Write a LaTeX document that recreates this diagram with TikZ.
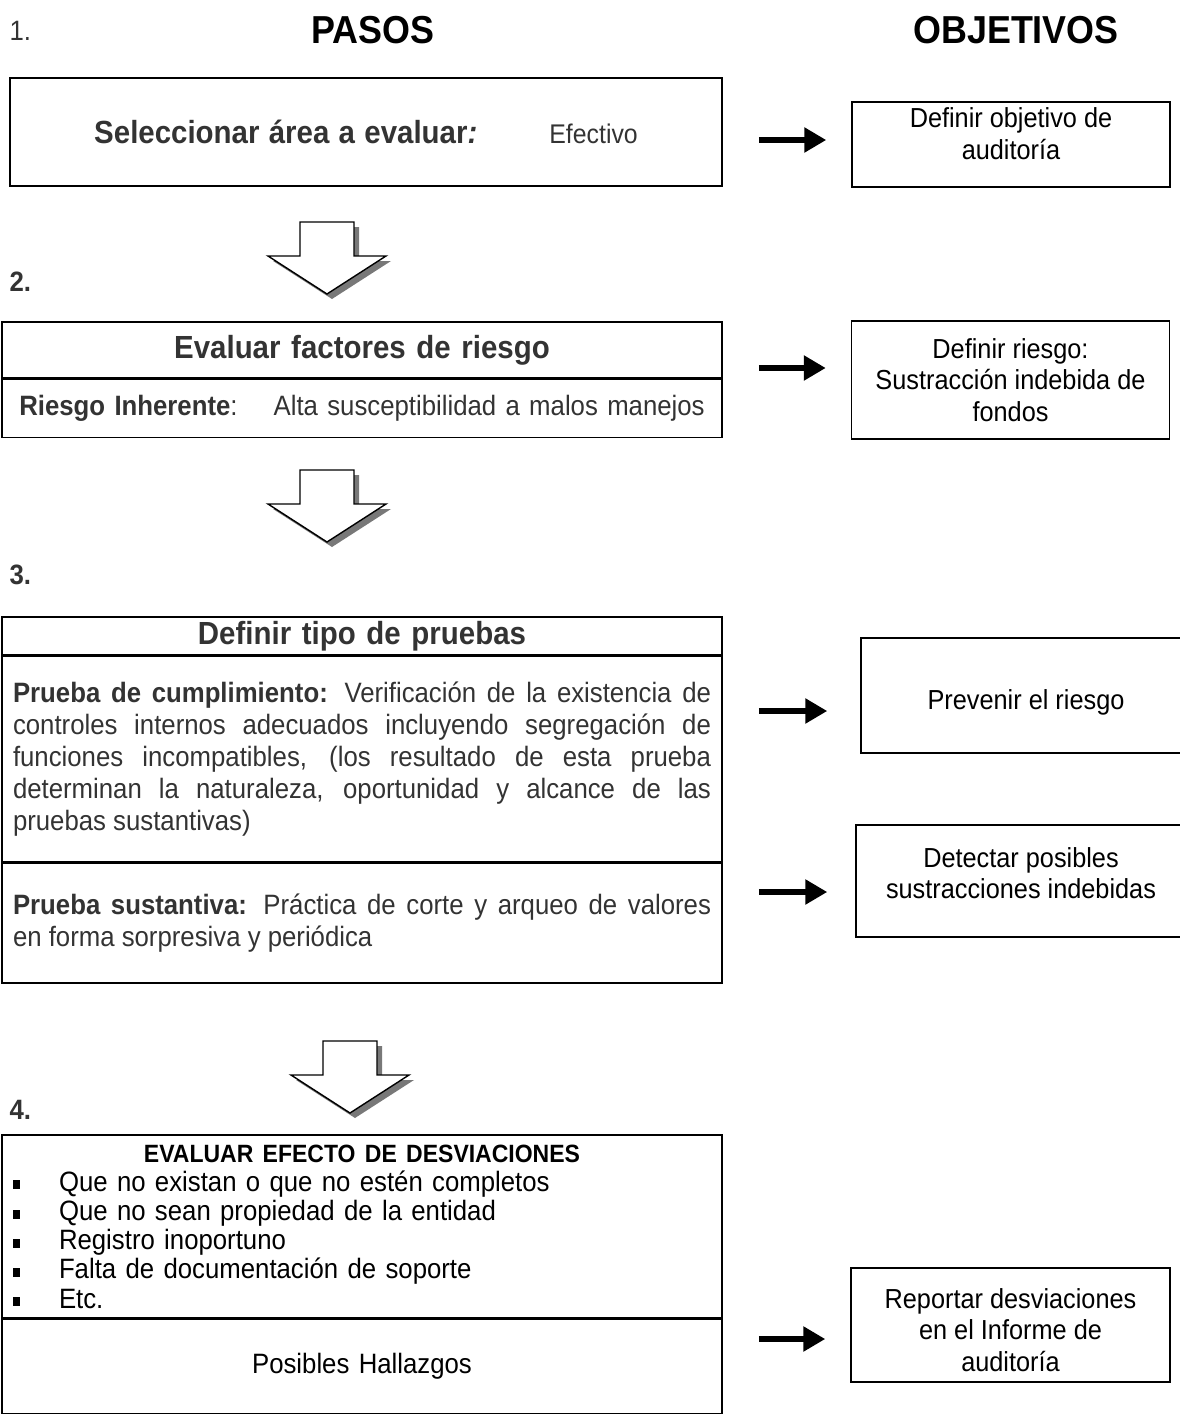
\documentclass[tikz,border=0pt]{standalone}
\usepackage{fontspec}
\setmainfont{Liberation Sans}[FakeStretch=0.92]
\usepackage{tikz}
\usetikzlibrary{positioning,arrows.meta}
\definecolor{textocolor}{RGB}{51, 51, 51}
\definecolor{sombracolor}{RGB}{120, 120, 120}
\newcommand{\vineta}{\makebox[46pt][l]{\rule[2pt]{7pt}{9pt}}}

\begin{document}
\begin{tikzpicture}[
    x=1pt, y=-1pt,
    pasobox/.style={rectangle, draw, line width=1.5pt, minimum width=720pt, inner xsep=11pt, inner ysep=0pt, text width=698pt, align=center, text=textocolor, font=\fontsize{28}{32}\selectfont},
    objbox/.style={rectangle, draw, line width=1.5pt, minimum width=318pt, align=center, font=\fontsize{27.5}{31.5}\selectfont},
    objtxt/.style={align=center, font=\fontsize{27.5}{31.5}\selectfont},
    titulo/.style={font=\fontsize{32}{36}\selectfont\bfseries},
    numero/.style={anchor=west, text=textocolor, font=\fontsize{28}{30}\selectfont\bfseries},
    flecha/.style={line width=6pt, -{Triangle[length=22pt,width=24pt]}, shorten <=36pt, shorten >=25pt}
]
    \useasboundingbox (0,0) rectangle (1179,1418);

    % Encabezados
    \node[font=\fontsize{39}{42}\selectfont\bfseries] (pasos) at (373,30) {PASOS};
    \node[font=\fontsize{39}{42}\selectfont\bfseries] (objetivos) at (1016,30) {OBJETIVOS};
    \node[numero, font=\fontsize{28}{30}\selectfont] (n1) at (6,31) {1.};
    \node[numero] (n2) at (6,282) {2.};
    \node[numero] (n3) at (6,575) {3.};
    \node[numero] (n4) at (6,1110) {4.};

    % Paso 1
    \node[pasobox, minimum width=712pt, text width=690pt, minimum height=108pt] (sel) at (366,132) {
        \textbf{\fontsize{32}{36}\selectfont Seleccionar área a evaluar\textit{:}}\hspace{72pt}{\fontsize{27}{30}\selectfont Efectivo}
    };

    % Paso 2
    \node[pasobox, titulo, minimum height=56pt] (evaluar) at (362,350) {Evaluar factores de riesgo};
    \node[pasobox, minimum height=58pt, below=0pt of evaluar] (riesgo) {
        \textbf{Riesgo Inherente}:\hspace{36pt}Alta susceptibilidad a malos manejos
    };

    % Paso 3
    \node[pasobox, titulo, minimum height=38pt] (tipo) at (362,636) {Definir tipo de pruebas};
    \node[pasobox, align=justify, minimum height=205pt, below=0pt of tipo] (cumpl) {
        \textbf{Prueba de cumplimiento:} Verificación de la existencia de\linebreak
        controles internos adecuados incluyendo segregación de\linebreak
        funciones incompatibles, (los resultado de esta prueba\linebreak
        determinan la naturaleza, oportunidad y alcance de las\linebreak
        pruebas sustantivas)
    };
    \node[pasobox, align=justify, minimum height=120pt, below=0pt of cumpl] (sustant) {
        \textbf{Prueba sustantiva:} Práctica de corte y arqueo de valores\linebreak
        en forma sorpresiva y periódica
    };

    % Paso 4
    \node[pasobox, align=left, text=black, minimum height=183pt, font=\fontsize{28}{29.2}\selectfont] (desv) at (362,1226.5) {
        \makebox[698pt]{\fontsize{25}{28}\selectfont\textbf{EVALUAR EFECTO DE DESVIACIONES}}\\
        \vineta Que no existan o que no estén completos\\
        \vineta Que no sean propiedad de la entidad\\
        \vineta Registro inoportuno\\
        \vineta Falta de documentación de soporte\\
        \vineta Etc.
    };
    \node[pasobox, text=black, minimum height=94pt, below=0pt of desv] (hallazgos) {Posibles Hallazgos};

    % Objetivos
    \node[objbox, minimum height=85pt, label={[objtxt, yshift=11pt]center:{Definir objetivo de\\auditoría}}] (obj1) at (1011,144.5) {};
    \node[objbox, minimum height=118pt] (obj2) at (1010.5,380) {Definir riesgo:\\Sustracción indebida de\\fondos};
    \node[objbox, minimum width=330pt, minimum height=115pt, label={[objtxt, yshift=-7pt]center:{Prevenir el riesgo}}] (obj3) at (1026,695.5) {};
    \node[objbox, minimum width=330pt, minimum height=112pt, label={[objtxt, yshift=8pt]center:{Detectar posibles\\sustracciones indebidas}}] (obj4) at (1021,881) {};
    \node[objbox, minimum width=319pt, minimum height=114pt, label={[objtxt, yshift=-5pt]center:{Reportar desviaciones\\en el Informe de\\auditoría}}] (obj5) at (1010.5,1325) {};

    % Flechas hacia abajo
    \foreach \ax/\ay in {327/222, 327/470, 350/1041} {
        \fill[sombracolor, shift={(\ax+5,\ay+5)}] (-27,0) -- (27,0) -- (27,34) -- (59,34) -- (0,72) -- (-59,34) -- (-27,34) -- cycle;
        \draw[line width=1.4pt, fill=white, shift={(\ax,\ay)}] (-27,0) -- (27,0) -- (27,34) -- (59,34) -- (0,72) -- (-59,34) -- (-27,34) -- cycle;
    }

    % Flechas hacia los objetivos
    \draw[flecha, transform canvas={yshift=4.5pt}] (sel.east |- obj1.west) -- (obj1.west);
    \draw[flecha, transform canvas={yshift=12pt}] (evaluar.east |- obj2.west) -- (obj2.west);
    \draw[flecha, shorten >=33pt, transform canvas={yshift=-15.5pt}] (cumpl.east |- obj3.west) -- (obj3.west);
    \draw[flecha, shorten >=28pt, transform canvas={yshift=-11pt}] (sustant.east |- obj4.west) -- (obj4.west);
    \draw[flecha, transform canvas={yshift=-14pt}] (hallazgos.east |- obj5.west) -- (obj5.west);
\end{tikzpicture}
\end{document}
